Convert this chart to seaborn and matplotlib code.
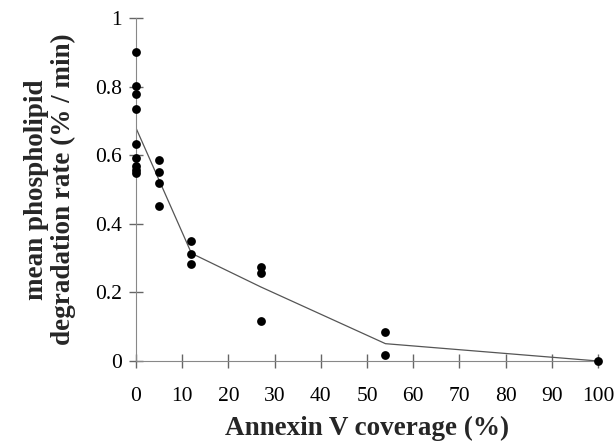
import matplotlib
matplotlib.use("Agg")
from matplotlib import pyplot as plt
import seaborn as sns
import pandas as pd
import numpy as np

coverage = [0, 0, 0, 0, 0, 0, 0, 0, 0,
            5, 5, 5, 5,
            12, 12, 12,
            27, 27, 27,
            54, 54,
            100]
rate = [0.902, 0.802, 0.778, 0.734, 0.633, 0.591, 0.569, 0.557, 0.547,
        0.586, 0.552, 0.520, 0.451,
        0.349, 0.311, 0.282,
        0.275, 0.257, 0.116,
        0.084, 0.017,
        0.0]
x_ticks = list(range(0, 101, 10))
y_ticks = [0, 0.2, 0.4, 0.6, 0.8, 1]
y_tick_labels = ["0", "0.2", "0.4", "0.6", "0.8", "1"]

df = pd.DataFrame({"coverage": coverage, "rate": rate})

sns.set_style("ticks")
plt.rcParams["font.family"] = ["Liberation Serif", "DejaVu Serif"]

fig = plt.figure(figsize=(6.16, 4.42), dpi=100)
ax = fig.add_axes([136 / 616, 1 - 361 / 442, 462 / 616, 343 / 442])

sns.lineplot(x="coverage", y="rate", data=df, errorbar=None, color="#555555",
             linewidth=0.9, ax=ax)
sns.scatterplot(x="coverage", y="rate", data=df, color="black", s=40,
                edgecolor="black", linewidth=0, ax=ax, clip_on=False, zorder=3)

ax.set_xlim(0, 100)
ax.set_ylim(0, 1)
ax.set_xticks(x_ticks)
ax.set_yticks(y_ticks)
ax.set_yticklabels(y_tick_labels)
for side in ["top", "right"]:
    ax.spines[side].set_visible(False)
for side in ["left", "bottom"]:
    ax.spines[side].set_color("#888888")
    ax.spines[side].set_linewidth(0.8)
ax.tick_params(axis="both", which="major", direction="inout", length=10,
               width=1.0, color="#666666", labelsize=15.5, labelcolor="black",
               bottom=True, left=True)
ax.tick_params(axis="x", pad=14)
ax.tick_params(axis="y", pad=5)

ax.set_xlabel("Annexin V coverage (%)", fontsize=19.5, fontweight="bold", labelpad=7)
ax.set_ylabel("mean phospholipid\ndegradation rate (% / min)", fontsize=19.5,
              fontweight="bold", labelpad=14, linespacing=1.1)

fig.savefig("out.png", dpi=100)
